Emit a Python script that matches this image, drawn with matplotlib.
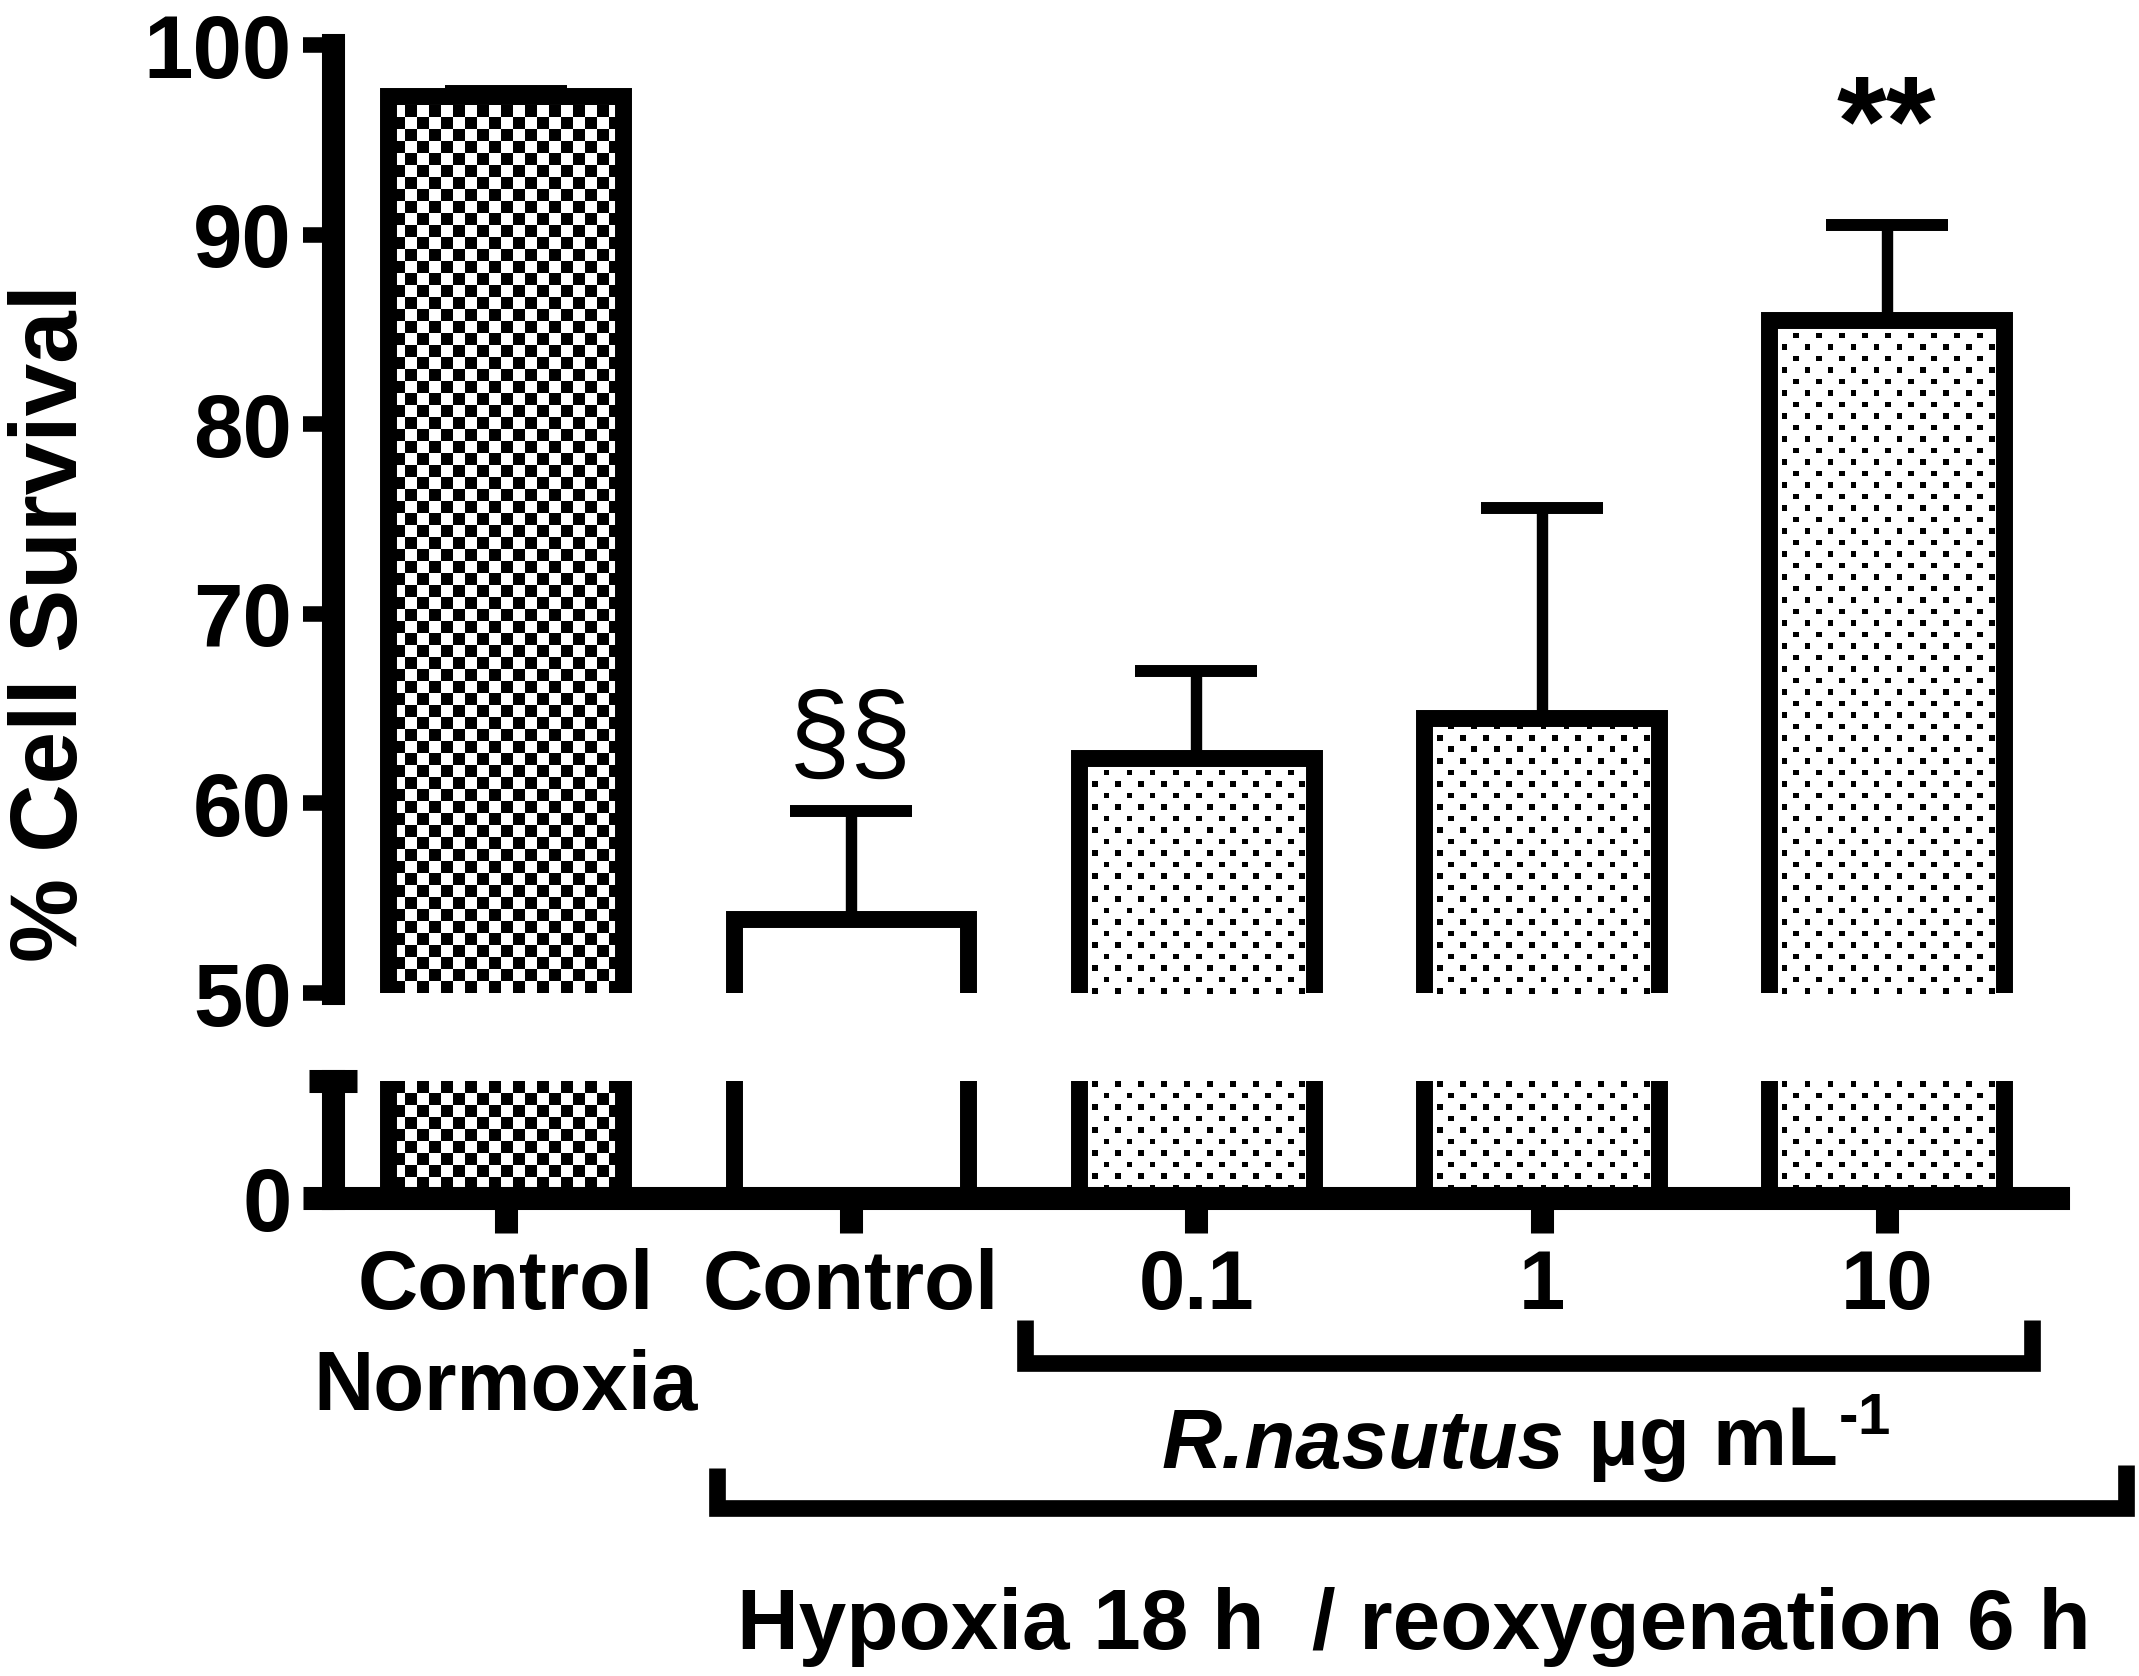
import numpy as np
import matplotlib
matplotlib.use('Agg')
import matplotlib.pyplot as plt
from matplotlib.lines import Line2D
from matplotlib.text import Annotation

plt.rcParams['font.family'] = ['Liberation Sans', 'DejaVu Sans']
plt.rcParams['font.weight'] = 'bold'
plt.rcParams['mathtext.fontset'] = 'custom'
plt.rcParams['mathtext.rm'] = 'Liberation Sans:bold'
plt.rcParams['mathtext.it'] = 'Liberation Sans:italic:bold'
plt.rcParams['mathtext.bf'] = 'Liberation Sans:bold'

# ---------------- data ----------------
categories = ['Control\nNormoxia', 'Control', '0.1', '1', '10']
means = [97.3, 53.9, 62.4, 64.5, 85.5]
sem = [0.3, 5.7, 4.6, 11.1, 5.0]
patterns = ['checker', 'none', 'dots', 'dots', 'dots']
annotations = ['', '§§', '', '', '**']
yticks_upper = [50, 60, 70, 80, 90, 100]
ytick_labels_upper = ['50', '60', '70', '80', '90', '100']
ytick_lower = [0]
ytick_labels_lower = ['0']
ylabel = '% Cell Survival'
dose_species = 'R.nasutus'
dose_unit = r' μg mL$^{‐1}$'
condition_label = 'Hypoxia 18 h  / reoxygenation 6 h'

# ---------------- figure ----------------
W, H, DPI = 2139, 1676, 200
fig = plt.figure(figsize=(W / DPI, H / DPI), dpi=DPI)
fig.patch.set_facecolor('white')
left, right = 0.1557, 0.962
ax_top = fig.add_axes([left, 0.4075, right - left, 0.9731 - 0.4075])
ax_bot = fig.add_axes([left, 0.2852, right - left, 0.355 - 0.2852])

x = np.arange(len(categories))
means_a = np.array(means)
sem_a = np.array(sem)
bw = 0.68
edge_lw = 6.1
spine_lw = 8.3
up_lo, up_hi = 50, 100
lo_lo, lo_hi = 0, 6.15
xlim = (-0.5, 4.495)


def pattern_image(ax, kind):
    bb = ax.get_window_extent()
    w, h = bb.width, bb.height
    if kind == 'checker':
        c = 12.0
        nx, ny = int(np.ceil(w / c)), int(np.ceil(h / c))
        jj, ii = np.meshgrid(np.arange(nx), np.arange(ny))
        arr = ((ii + jj) % 2).astype(float)
    else:
        c = 5.75
        nx, ny = int(np.ceil(w / c)), int(np.ceil(h / c))
        jj, ii = np.meshgrid(np.arange(nx), np.arange(ny))
        arr = (((ii % 4 == 0) & (jj % 4 == 0)) | ((ii % 4 == 2) & (jj % 4 == 2))).astype(float)
    return arr, (0, nx * c / w, 1 - ny * c / h, 1)


def draw_bars(ax, bottom_val):
    heights = means_a - bottom_val
    fills = ax.bar(x, heights, bottom=bottom_val, width=bw, color='white',
                   edgecolor='none', zorder=1)
    for p, kind in zip(fills.patches, patterns):
        if kind == 'none':
            continue
        arr, ext = pattern_image(ax, kind)
        im = ax.imshow(arr, cmap='gray_r', vmin=0, vmax=1, interpolation='nearest',
                       extent=ext, transform=ax.transAxes, aspect='auto', zorder=2)
        im.set_clip_path(p)
    ax.bar(x, heights, bottom=bottom_val, width=bw, fill=False,
           edgecolor='black', linewidth=edge_lw, zorder=3)


# upper segment
draw_bars(ax_top, up_lo - 5)
ax_top.errorbar(x, means_a, yerr=[np.zeros_like(sem_a), sem_a], fmt='none',
                ecolor='black', elinewidth=4.1, capsize=22, capthick=4.3, zorder=2.5)
ax_top.set_xlim(*xlim)
ax_top.set_ylim(up_lo, up_hi)
for s in ['top', 'right', 'bottom']:
    ax_top.spines[s].set_visible(False)
ax_top.spines['left'].set_linewidth(spine_lw)
ax_top.set_xticks([])
ax_top.set_yticks(yticks_upper)
ax_top.set_yticklabels(ytick_labels_upper, fontsize=32, fontweight='bold')
ax_top.tick_params(axis='y', direction='out', length=10.8, width=5.6, pad=4)
ax_top.set_yticks([up_lo], minor=True)
ax_top.tick_params(axis='y', which='minor', direction='in', length=9, width=8.3)
ax_top.patch.set_visible(False)

for i, a in enumerate(annotations):
    if not a:
        continue
    if a.startswith('§'):
        ax_top.text(x[i], means_a[i] + sem_a[i] + 2.16, a, ha='center', va='baseline',
                    fontsize=40, fontweight='normal', zorder=5)
    else:
        ax_top.text(x[i], means_a[i] + sem_a[i] + 3.2, a, ha='center', va='baseline',
                    fontsize=46, fontweight='bold', zorder=5)

# lower segment
draw_bars(ax_bot, lo_lo - 1)
ax_bot.set_xlim(*xlim)
ax_bot.set_ylim(lo_lo, lo_hi)
for s in ['top', 'right']:
    ax_bot.spines[s].set_visible(False)
ax_bot.spines['left'].set_linewidth(spine_lw)
ax_bot.spines['bottom'].set_linewidth(spine_lw)
ax_bot.spines['bottom'].set_zorder(4)
ax_bot.spines['left'].set_zorder(4)
ax_bot.set_xticks(x)
ax_bot.set_xticklabels(categories, fontsize=30, fontweight='bold', linespacing=1.375)
ax_bot.tick_params(axis='x', direction='out', length=12.6, width=8.3, pad=5.5)
ax_bot.set_yticks(ytick_lower)
ax_bot.set_yticklabels(ytick_labels_lower, fontsize=32, fontweight='bold')
ax_bot.tick_params(axis='y', direction='out', length=10.8, width=8.3, pad=4)
ax_bot.set_yticks([lo_hi], minor=True)
ax_bot.tick_params(axis='y', which='minor', direction='inout', length=17, width=8.3)
ax_bot.patch.set_visible(False)

# brackets and group labels
br_lw = 6.0
fig.add_artist(Line2D([0.479, 0.479, 0.950, 0.950], [0.2124, 0.1868, 0.1868, 0.2124],
                      transform=fig.transFigure, color='black', lw=br_lw,
                      solid_joinstyle='miter', solid_capstyle='butt'))
fig.add_artist(Line2D([0.335, 0.335, 0.994, 0.994], [0.124, 0.100, 0.100, 0.126],
                      transform=fig.transFigure, color='black', lw=br_lw,
                      solid_joinstyle='miter', solid_capstyle='butt'))
t1 = fig.text(0.543, 0.124, dose_species, ha='left', va='baseline', fontsize=30,
              fontweight='bold', fontstyle='italic')
fig.add_artist(Annotation(dose_unit, xy=(1, 0), xycoords=t1, ha='left', va='bottom',
                          fontsize=30, fontweight='bold'))
fig.text(0.661, 0.016, condition_label, ha='center', va='baseline', fontsize=30.8,
         fontweight='bold')
fig.text(0.0245, 0.628, ylabel, rotation=90, ha='center', va='center', fontsize=34,
         fontweight='bold')

fig.savefig('out.png', dpi=DPI, facecolor='white')
